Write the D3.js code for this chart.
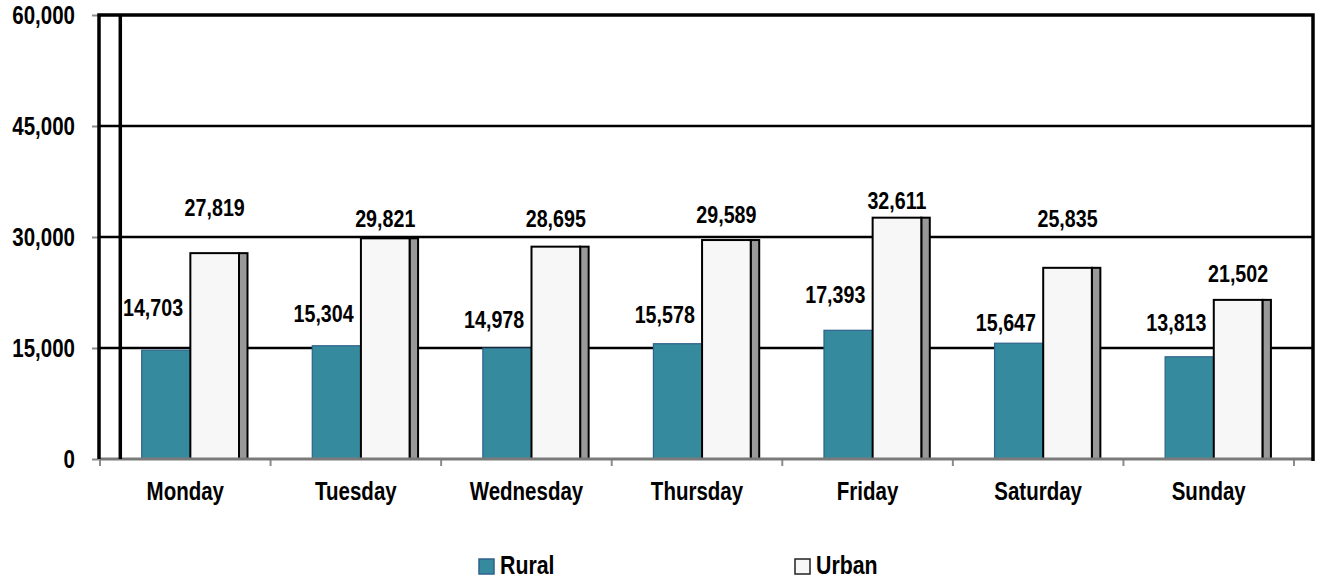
<!DOCTYPE html>
<meta charset="utf-8">

    <style>
        body {
            margin: 0;
            background: #fff;
        }

        svg {
            font-family: 'Liberation Sans', Arial, sans-serif;
            font-weight: bold;
        }

        .y .domain, .x .domain {
            display: none;
        }

        .y .tick line, .x .tick line {
            stroke: #8c8c8c;
            stroke-width: 2px;
        }

        .y .tick text, .x .tick text {
            font-size: 25px;
            fill: #000;
        }
    </style>

<script src="https://d3js.org/d3.v7.min.js"></script>

<div id="my_dataviz"></div>

<script>

    // data
    const days = ["Monday", "Tuesday", "Wednesday", "Thursday", "Friday", "Saturday", "Sunday"];
    const rural = [14703, 15304, 14978, 15578, 17393, 15647, 13813];
    const urban = [27819, 29821, 28695, 29589, 32611, 25835, 21502];
    const yTicks = [0, 15000, 30000, 45000, 60000];
    const seriesNames = ["Rural", "Urban"];

    // how far (px) each value label sits above its bar, as placed in the original
    const ruralLabelLift = [42, 32, 28, 29, 35, 20, 34];
    const urbanLabelLift = [45, 20, 28, 25, 17, 49, 26];

    const colors = {Rural: "#368a9e", Urban: "#f7f7f7"};

    // the original uses a narrow bold face; squeeze Liberation Sans to get close
    const squeeze = 0.82;
    function narrow(sel) {
      sel.each(function() {
        const t = d3.select(this);
        const tx = +t.attr("x") || 0, ty = +t.attr("y") || 0;
        t.attr("x", 0).attr("y", 0)
         .attr("transform", `translate(${tx},${ty}) scale(${squeeze},1)`);
      });
    }

    // set the dimensions of the page
    const W = 1318, H = 579;
    const plot = {left: 100, right: 1313, top: 15, bottom: 459};

    const svg = d3.select("#my_dataviz")
      .append("svg")
        .attr("width", W)
        .attr("height", H);

    // scales
    const x = d3.scaleBand()
      .domain(days)
      .range([plot.left, 1294]);

    const y = d3.scaleLinear()
      .domain([0, 60000])
      .range([plot.bottom, plot.top]);

    // bars inside each day
    const xs = d3.scaleBand()
      .domain(seriesNames)
      .range([41.7, 139]);

    const fmt = d3.format(",");

    // gridlines
    svg.append("g")
      .selectAll("line")
      .data(yTicks.filter(d => d > 0 && d < 60000))
      .enter()
      .append("line")
        .attr("x1", plot.left)
        .attr("x2", plot.right)
        .attr("y1", d => y(d))
        .attr("y2", d => y(d))
        .attr("stroke", "#000")
        .attr("stroke-width", 2.3);

    // y axis (labels + small grey ticks)
    svg.append("g")
        .attr("class", "y")
        .attr("transform", `translate(${plot.left},0)`)
        .call(d3.axisLeft(y).tickValues(yTicks).tickFormat(fmt).tickSize(8).tickPadding(17))
      .selectAll("text")
        .attr("dy", null)
        .attr("dominant-baseline", "central")
        .call(narrow);

    // x axis labels; ticks sit on the day boundaries
    svg.append("g")
        .attr("class", "x")
        .attr("transform", `translate(0,${plot.bottom})`)
        .call(d3.axisBottom(x).tickSize(0).tickPadding(23))
      .selectAll("text")
        .call(narrow);

    svg.append("g")
      .selectAll("line")
      .data(days.concat(["end"]))
      .enter()
      .append("line")
        .attr("x1", (d, i) => i < days.length ? x(d) : x.range()[1])
        .attr("x2", (d, i) => i < days.length ? x(d) : x.range()[1])
        .attr("y1", plot.bottom)
        .attr("y2", plot.bottom + 7)
        .attr("stroke", "#8c8c8c")
        .attr("stroke-width", 2);

    // bars
    const groups = svg.append("g")
      .selectAll("g")
      .data(days)
      .enter()
      .append("g")
        .attr("transform", d => `translate(${x(d)},0)`);

    groups.append("rect")
        .attr("x", xs("Rural"))
        .attr("y", (d, i) => y(rural[i]))
        .attr("width", xs.bandwidth())
        .attr("height", (d, i) => y(0) - y(rural[i]))
        .attr("fill", colors.Rural)
        .attr("stroke", "#2f628a")
        .attr("stroke-width", 1.2);

    // grey side face of the urban bar
    groups.append("rect")
        .attr("x", xs("Urban") + xs.bandwidth())
        .attr("y", (d, i) => y(urban[i]))
        .attr("width", 8.5)
        .attr("height", (d, i) => y(0) - y(urban[i]))
        .attr("fill", "#999")
        .attr("stroke", "#000")
        .attr("stroke-width", 2);

    groups.append("rect")
        .attr("x", xs("Urban"))
        .attr("y", (d, i) => y(urban[i]))
        .attr("width", xs.bandwidth())
        .attr("height", (d, i) => y(0) - y(urban[i]))
        .attr("fill", colors.Urban)
        .attr("stroke", "#000")
        .attr("stroke-width", 2);

    // value labels
    groups.append("text")
        .attr("x", xs("Rural") + xs.bandwidth() / 2 - 13)
        .attr("y", (d, i) => y(rural[i]) - ruralLabelLift[i])
        .attr("text-anchor", "middle")
        .attr("dominant-baseline", "central")
        .style("font-size", "24px")
        .text((d, i) => fmt(rural[i]))
        .call(narrow);

    groups.append("text")
        .attr("x", xs("Urban") + xs.bandwidth() / 2)
        .attr("y", (d, i) => y(urban[i]) - urbanLabelLift[i])
        .attr("text-anchor", "middle")
        .attr("dominant-baseline", "central")
        .style("font-size", "24px")
        .text((d, i) => fmt(urban[i]))
        .call(narrow);

    // bottom axis line (grey)
    svg.append("line")
        .attr("x1", plot.left).attr("x2", plot.right)
        .attr("y1", plot.bottom).attr("y2", plot.bottom)
        .attr("stroke", "#7a7a7a")
        .attr("stroke-width", 3);

    // frame: left, top, right, and the second vertical rule
    svg.append("path")
        .attr("d", `M${plot.left - 1},${plot.bottom} V${plot.top} H${plot.right} V${plot.bottom + 2}`)
        .attr("fill", "none")
        .attr("stroke", "#000")
        .attr("stroke-width", 3.5);

    svg.append("line")
        .attr("x1", 120.3).attr("x2", 120.3)
        .attr("y1", plot.top).attr("y2", plot.bottom)
        .attr("stroke", "#000")
        .attr("stroke-width", 3.5);

    // Handmade legend
    const legend = svg.append("g")
      .selectAll("g")
      .data(seriesNames)
      .enter()
      .append("g")
        .attr("transform", (d, i) => `translate(${[479, 795][i]},559)`);

    legend.append("rect")
        .attr("width", 15).attr("height", 15)
        .attr("fill", d => colors[d])
        .attr("stroke", d => d == "Rural" ? "#2f628a" : "#222")
        .attr("stroke-width", 1.5);

    legend.append("text")
        .attr("x", 21)
        .attr("y", 15)
        .style("font-size", "26px")
        .text(d => d)
        .call(narrow);

</script>
